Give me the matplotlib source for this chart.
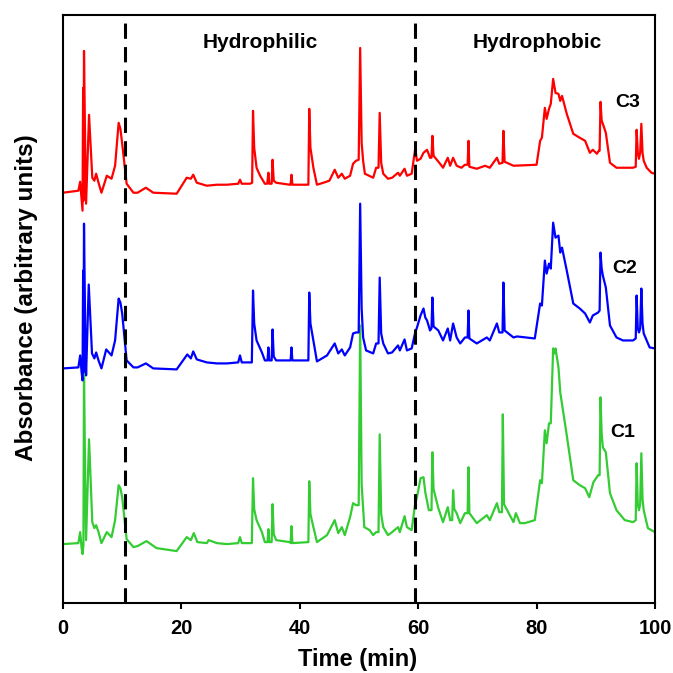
import matplotlib
matplotlib.use("Agg")
import matplotlib.pyplot as plt
import numpy as np

plt.rcParams['font.family'] = ['Liberation Sans', 'DejaVu Sans']
plt.rcParams['font.weight'] = 'bold'

# retention time (min) and absorbance above each trace's baseline (arbitrary units)
t_c3 = [0, 2.6, 2.9, 3.15, 3.3, 3.4, 3.45, 3.55, 3.75, 3.9,
        4.4, 4.95, 5.3, 5.6, 6.0, 6.5, 7.4, 8.2, 8.8, 9.4,
        9.7, 10.0, 10.75, 11.9, 12.6, 14.0, 15.25, 19.2, 20.9, 21.6,
        22.0, 22.6, 24.3, 26, 27.7, 29.6, 29.9, 30.2, 31.6, 31.95,
        32.1, 32.3, 32.7, 33.3, 34.1, 34.5, 34.7, 34.85, 35.25, 35.4,
        35.6, 36.0, 38.3, 38.45, 38.6, 38.75, 41.2, 41.45, 41.6, 41.8,
        42.3, 42.9, 44.0, 45.0, 45.9, 46.5, 47.1, 47.6, 48.5, 49.0,
        49.5, 49.95, 50.2, 50.45, 50.7, 51.0, 52.4, 52.9, 53.3, 53.5,
        53.75, 54.1, 54.9, 55.6, 56.6, 56.9, 57.7, 58.1, 58.9, 59.5,
        59.8, 60.4, 60.9, 61.5, 62.0, 62.25, 62.4, 62.6, 63.7, 64.2,
        65.0, 65.4, 65.9, 66.5, 67.3, 67.9, 68.35, 68.5, 68.65, 69.9,
        71.3, 72.1, 73.3, 73.7, 74.25, 74.4, 74.6, 76.1, 80.0, 80.6,
        80.9, 81.4, 81.7, 82.1, 82.4, 82.8, 83.2, 83.7, 84.0, 84.3,
        85.1, 86.2, 87.3, 88.2, 89.0, 89.5, 90.2, 90.5, 90.65, 90.8,
        91.0, 91.2, 91.7, 92.4, 93.5, 96.3, 96.75, 96.9, 97.1, 97.3,
        97.5, 97.7, 97.9, 98.1, 98.6, 99.4, 100]
a_c3 = [0, 2, 11, -8, -18, 105, -8, 142, 42, -11,
        78, 15, 12, 19, 10, 0, 17, 14, 27, 70,
        64, 49, 9, 0, 0, 5, 0, -1, 15, 14,
        18, 10, 7, 8, 8, 9, 13, 9, 9, 10,
        82, 45, 25, 17, 9, 9, 20, 9, 9, 33,
        12, 10, 8, 8, 18, 8, 8, 8, 84, 45,
        25, 8, 10, 12, 23, 15, 19, 14, 17, 29,
        32, 33, 145, 50, 32, 19, 15, 25, 25, 80,
        30, 19, 14, 15, 20, 17, 24, 17, 19, 44,
        32, 34, 40, 43, 35, 35, 57, 37, 29, 25,
        35, 27, 35, 27, 25, 28, 28, 52, 26, 24,
        27, 25, 35, 29, 30, 62, 31, 27, 28, 52,
        55, 85, 74, 84, 89, 114, 100, 99, 92, 97,
        79, 59, 55, 52, 40, 43, 39, 42, 42, 91,
        72, 69, 60, 30, 25, 25, 26, 63, 40, 34,
        40, 69, 40, 32, 25, 20, 19]

t_c2 = [0, 2.6, 2.9, 3.15, 3.3, 3.4, 3.45, 3.55, 3.75, 3.9,
        4.35, 4.9, 5.3, 5.6, 6.0, 6.5, 7.3, 8.2, 8.8, 9.4,
        9.7, 10.0, 10.75, 11.9, 12.6, 14.0, 15.25, 19.2, 21.0, 21.6,
        22.0, 22.6, 24.3, 26, 27.7, 29.6, 29.9, 30.2, 31.6, 31.9,
        32.1, 32.3, 32.7, 33.6, 34.1, 34.55, 34.7, 34.85, 35.25, 35.4,
        35.6, 36.0, 38.3, 38.45, 38.6, 38.75, 41.2, 41.45, 41.6, 41.8,
        42.3, 42.9, 44.6, 45.9, 46.5, 47.1, 47.6, 48.5, 49.0, 49.5,
        49.95, 50.2, 50.45, 50.7, 51.2, 52.4, 52.9, 53.3, 53.5, 53.75,
        54.1, 54.9, 55.6, 56.6, 56.9, 57.7, 58.1, 58.9, 59.5, 59.8,
        60.4, 60.9, 61.2, 61.5, 62.0, 62.25, 62.4, 62.6, 63.4, 64.2,
        65.0, 65.4, 65.9, 66.5, 67.1, 67.9, 68.35, 68.5, 68.65, 69.9,
        71.6, 72.1, 73.3, 73.7, 74.25, 74.4, 74.6, 76.1, 76.7, 79.7,
        80.6, 80.9, 81.4, 81.7, 82.1, 82.4, 82.8, 83.2, 83.7, 84.0,
        84.3, 85.1, 86.2, 87.3, 88.2, 89.0, 89.5, 90.4, 90.65, 90.8,
        91.0, 91.2, 91.7, 92.4, 93.5, 94.6, 96.3, 96.75, 96.9, 97.1,
        97.3, 97.5, 97.7, 97.9, 98.1, 99.1, 100]
a_c2 = [0, 1, 13, -4, -12, 98, -4, 145, 38, -7,
        84, 15, 10, 16, 8, 0, 19, 13, 28, 70,
        66, 55, 8, 1, 1, 5, 0, -1, 14, 10,
        17, 9, 6, 5, 5, 6, 13, 6, 6, 6,
        78, 45, 28, 16, 8, 8, 21, 8, 8, 39,
        12, 8, 8, 8, 21, 8, 8, 8, 76, 45,
        28, 7, 13, 25, 15, 19, 13, 21, 35, 36,
        36, 165, 60, 31, 18, 15, 25, 25, 91, 35,
        25, 15, 16, 23, 18, 29, 18, 20, 36, 41,
        53, 60, 51, 48, 38, 40, 71, 42, 38, 28,
        40, 28, 45, 31, 25, 31, 31, 58, 30, 25,
        31, 28, 45, 36, 36, 86, 38, 31, 32, 30,
        65, 63, 108, 95, 105, 100, 146, 131, 133, 116,
        121, 98, 65, 60, 55, 46, 53, 56, 58, 116,
        100, 93, 81, 43, 31, 28, 28, 30, 73, 40,
        36, 40, 80, 45, 35, 21, 20]

t_c1 = [0, 2.6, 2.9, 3.15, 3.3, 3.45, 3.55, 3.75, 3.9, 4.4,
        4.95, 5.3, 5.6, 6.0, 6.5, 7.4, 8.2, 8.8, 9.4, 9.7,
        10.0, 10.75, 11.9, 12.6, 14.1, 15.8, 19.2, 20.9, 21.6, 22.1,
        22.7, 24.3, 24.6, 26, 27.7, 29.6, 29.9, 30.2, 31.6, 31.9,
        32.1, 32.3, 32.7, 33.6, 34.1, 34.55, 34.7, 34.85, 35.25, 35.4,
        35.6, 36.0, 38.3, 38.45, 38.6, 38.75, 41.2, 41.45, 41.6, 41.8,
        42.3, 42.9, 44.6, 45.9, 46.5, 47.1, 47.6, 48.5, 49.0, 49.5,
        49.95, 50.2, 50.45, 50.9, 51.8, 52.4, 52.9, 53.3, 53.5, 53.75,
        54.1, 54.9, 55.6, 56.6, 56.9, 57.7, 58.1, 58.9, 59.5, 59.8,
        60.4, 60.9, 61.2, 61.8, 62.25, 62.4, 62.6, 63.4, 64.2, 65.0,
        65.4, 65.75, 65.9, 66.1, 66.5, 67.1, 67.9, 68.35, 68.5, 68.65,
        69.9, 71.6, 72.1, 73.3, 73.7, 74.15, 74.3, 74.5, 76.1, 76.5,
        77.2, 78.0, 79.7, 80.6, 80.9, 81.4, 81.7, 82.1, 82.4, 82.8,
        83.0, 83.2, 83.7, 84.0, 85.1, 86.2, 87.3, 88.2, 88.9, 89.6,
        90.4, 90.65, 90.8, 91.0, 91.2, 91.7, 92.4, 93.5, 94.9, 96.3,
        96.75, 96.9, 97.1, 97.3, 97.5, 97.7, 97.9, 98.1, 98.8, 100]
a_c1 = [0, 1, 12, -4, -10, -1, 172, 64, 4, 105,
        22, 16, 19, 12, 1, 12, 7, 24, 59, 56,
        47, 5, -3, -2, 3, -4, -7, 7, 4, 11,
        2, 1, 4, 1, 0, 1, 7, 1, 1, 1,
        66, 35, 24, 12, 2, 2, 15, 2, 2, 40,
        10, 4, 2, 1, 18, 1, 2, 2, 63, 30,
        17, 2, 9, 24, 11, 17, 9, 27, 41, 39,
        39, 219, 60, 17, 14, 9, 12, 12, 110, 30,
        17, 9, 12, 17, 12, 28, 17, 14, 41, 47,
        66, 67, 52, 34, 34, 92, 55, 36, 22, 37,
        24, 24, 54, 35, 31, 21, 31, 31, 77, 31,
        21, 29, 24, 41, 32, 32, 130, 40, 22, 31,
        21, 21, 24, 64, 61, 114, 101, 121, 121, 196,
        191, 196, 177, 152, 109, 64, 59, 56, 47, 62,
        69, 69, 147, 110, 97, 92, 51, 34, 24, 22,
        24, 81, 40, 34, 40, 91, 45, 34, 16, 12]

names = ['C1', 'C2', 'C3']
colors = ['#33cc33', '#0000ff', '#ff0000']
offsets = [59, 235, 411]
region_edges = [10.4, 59.5]

fig = plt.figure(figsize=(6.73, 6.73), dpi=100)
ax = fig.add_axes([0.0936, 0.104, 0.8796, 0.8737])

traces = [(t_c1, a_c1), (t_c2, a_c2), (t_c3, a_c3)]
for (t, a), c, off in zip(traces, colors, offsets):
    ax.plot(t, np.array(a) + off, color=c, lw=1.6)

for x in region_edges:
    ax.axvline(x, color='black', lw=2.2, linestyle=(0, (5, 2.7)))

ax.set_xlim(0, 100)
ax.set_ylim(0, 589)
ax.set_xticks([0, 20, 40, 60, 80, 100])
ax.set_yticks([])
ax.tick_params(axis='x', direction='out', length=4.5, width=1.5, pad=7, labelsize=14.5)
for s in ax.spines.values():
    s.set_linewidth(1.5)

ax.set_xlabel('Time (min)', fontsize=17, fontweight='bold')
ax.xaxis.set_label_coords(0.498, -0.077)
ax.set_ylabel('Absorbance (arbitrary units)', fontsize=17.5, fontweight='bold')
ax.yaxis.set_label_coords(-0.042, 0.519)

ax.text(33.3, 561, 'Hydrophilic', fontsize=15, fontweight='bold', ha='center', va='center')
ax.text(80.1, 561, 'Hydrophobic', fontsize=15, fontweight='bold', ha='center', va='center')
ax.text(95.4, 501, 'C3', fontsize=14, fontweight='bold', ha='center', va='center')
ax.text(94.9, 335, 'C2', fontsize=14, fontweight='bold', ha='center', va='center')
ax.text(94.6, 171, 'C1', fontsize=14, fontweight='bold', ha='center', va='center')

fig.savefig('out.png', dpi=100)
